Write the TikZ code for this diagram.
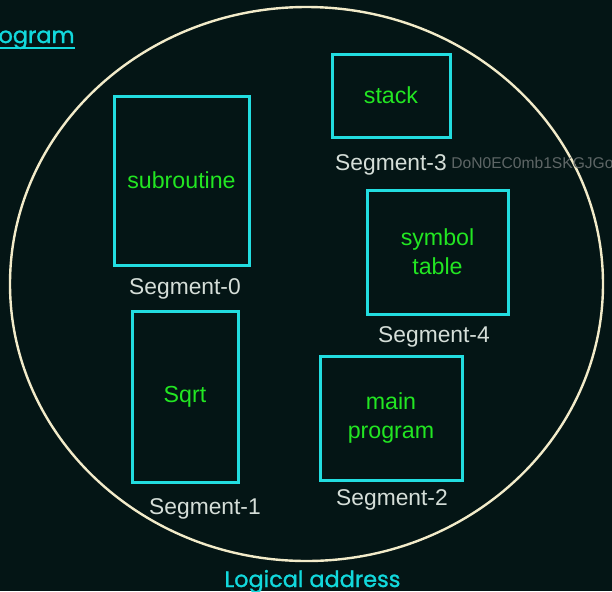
\documentclass[tikz,border=0pt]{standalone}
\usepackage{fontspec}
\setmainfont{Liberation Sans}
\newfontfamily\headfont{Poppins}[BoldFont=Poppins,BoldFeatures={FakeBold=1.2}]
\usepackage{xcolor}
\usepackage{tikz}
\usetikzlibrary{positioning}

\definecolor{bgdark}{HTML}{041515}
\definecolor{ringcol}{HTML}{F2EBC9}
\definecolor{boxcyan}{HTML}{22DDE0}
\definecolor{textgreen}{HTML}{22E622}
\definecolor{seggray}{HTML}{D5DED8}
\definecolor{headcyan}{HTML}{12D8DC}
\definecolor{markgray}{HTML}{5E6666}

\begin{document}
\begin{tikzpicture}[x=0.5pt,y=-0.5pt,
    segbox/.style={draw=boxcyan,line width=1.5pt,inner sep=0pt,
      text=textgreen,align=center,font=\fontsize{11.6}{14.5}\selectfont},
    seglabel/.style={text=seggray,inner sep=0pt,
      font=\fontsize{11.4}{14}\selectfont},
    heading/.style={text=headcyan,inner sep=0pt,
      font=\headfont\bfseries\fontsize{11.2}{14}\selectfont}
  ]
    \fill[bgdark] (0,0) rectangle (612,591);
    \useasboundingbox (0,0) rectangle (612,591);

    \draw[ringcol,line width=1.2pt] (306.5,284) ellipse [x radius=296.5,y radius=277];

    % faint watermark behind the label of segment 3
    \node[anchor=base west,inner sep=0pt,text=markgray,
      font=\fontsize{7.8}{10}\selectfont] (mark) at (451,168) {DoN0EC0mb1SKGJGoF};

    \node[segbox,minimum width=67.5pt,minimum height=84.5pt] (seg0) at (181.5,180.5) {subroutine};
    \node[segbox,minimum width=53pt,minimum height=85.5pt] (seg1) at (185,396.5) {Sqrt};
    \node[segbox,minimum width=71pt,minimum height=62pt] (seg2) at (391,418) {main\\program};
    \node[segbox,minimum width=59pt,minimum height=41.5pt] (seg3) at (391,95.5) {stack};
    \node[segbox,minimum width=70.5pt,minimum height=62pt] (seg4) at (437.5,252) {symbol\\table};

    \node[seglabel,below=6pt of seg0,xshift=1.75pt] (lab0) {Segment-0};
    \node[seglabel,below=7.5pt of seg1,xshift=10pt] (lab1) {Segment-1};
    \node[seglabel,below=4pt of seg2,xshift=0.5pt] (lab2) {Segment-2};
    \node[seglabel,below=8pt of seg3,fill=bgdark] (lab3) {Segment-3};
    \node[seglabel,below=5.5pt of seg4,xshift=-1.75pt] (lab4) {Segment-4};

    \node[heading,anchor=base east] (prog) at (75,43) {Program};
    \draw[headcyan,line width=1pt] ([yshift=-2.6pt]prog.base west) -- ([yshift=-2.6pt]prog.base east);
    \node[heading,anchor=base] (logaddr) at (312.5,587) {Logical address};
  \end{tikzpicture}
\end{document}
